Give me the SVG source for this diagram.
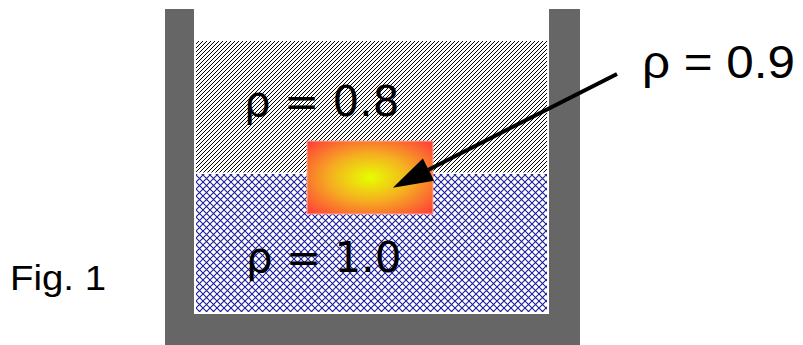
<svg xmlns="http://www.w3.org/2000/svg" width="803" height="345" viewBox="0 0 803 345">
  <style>
    .wall { fill: #666666; }
    .lbl { font-family: "DejaVu Sans", sans-serif; font-size: 42px; fill: #000; }
    .lbl2 { font-family: "Liberation Sans", Arial, sans-serif; fill: #000; }
    .conn { stroke: #000; stroke-width: 4; fill: none; }
  </style>
  <defs>
    <pattern id="hatch" width="4" height="4" patternUnits="userSpaceOnUse">
      <path d="M-1,1 L1,-1 M0,4 L4,0 M3,5 L5,3" stroke="#000" stroke-width="1"/>
    </pattern>
    <pattern id="cross" width="7" height="7" patternUnits="userSpaceOnUse">
      <path d="M0,0 L7,7 M0,7 L7,0" stroke="#1c1c9c" stroke-width="1.1"/>
    </pattern>
    <radialGradient id="glow" cx="0.5" cy="0.5" r="0.7">
      <stop offset="0" stop-color="#e6ff00"/>
      <stop offset="0.45" stop-color="#f5b020"/>
      <stop offset="1" stop-color="#ff3a3a"/>
    </radialGradient>
    <marker id="ah" markerUnits="userSpaceOnUse" markerWidth="40" markerHeight="25" refX="0" refY="12.5" orient="auto" overflow="visible">
      <path d="M0,0 L40,12.5 L0,25 z" fill="#000"/>
    </marker>
  </defs>

  <g id="container">
    <rect class="wall" x="165" y="9" width="29" height="336"/>
    <rect class="wall" x="549" y="9" width="31" height="336"/>
    <rect class="wall" x="194" y="314" width="355" height="31"/>
  </g>

  <g id="fluid-light">
    <rect x="196" y="41" width="351" height="131.5" fill="url(#hatch)"/>
    <text class="lbl" x="244" y="116">ρ = 0.8</text>
  </g>

  <g id="fluid-heavy">
    <rect x="196" y="174" width="351" height="138" fill="url(#cross)"/>
    <text class="lbl" x="246" y="272">ρ = 1.0</text>
  </g>

  <g id="block">
    <rect x="307" y="141" width="126" height="73" fill="url(#glow)" stroke="#ffb0a0" stroke-width="1"/>
  </g>

  <g id="label-block">
    <text class="lbl2" x="642" y="78" font-size="46" textLength="153" lengthAdjust="spacingAndGlyphs">ρ = 0.9</text>
  </g>

  <g id="caption">
    <text class="lbl2" x="10" y="290" font-size="35" textLength="96" lengthAdjust="spacingAndGlyphs">Fig. 1</text>
  </g>

  <g id="connectors">
    <line class="conn" x1="617" y1="74" x2="428.5" y2="169.7" marker-end="url(#ah)"/>
  </g>
</svg>
